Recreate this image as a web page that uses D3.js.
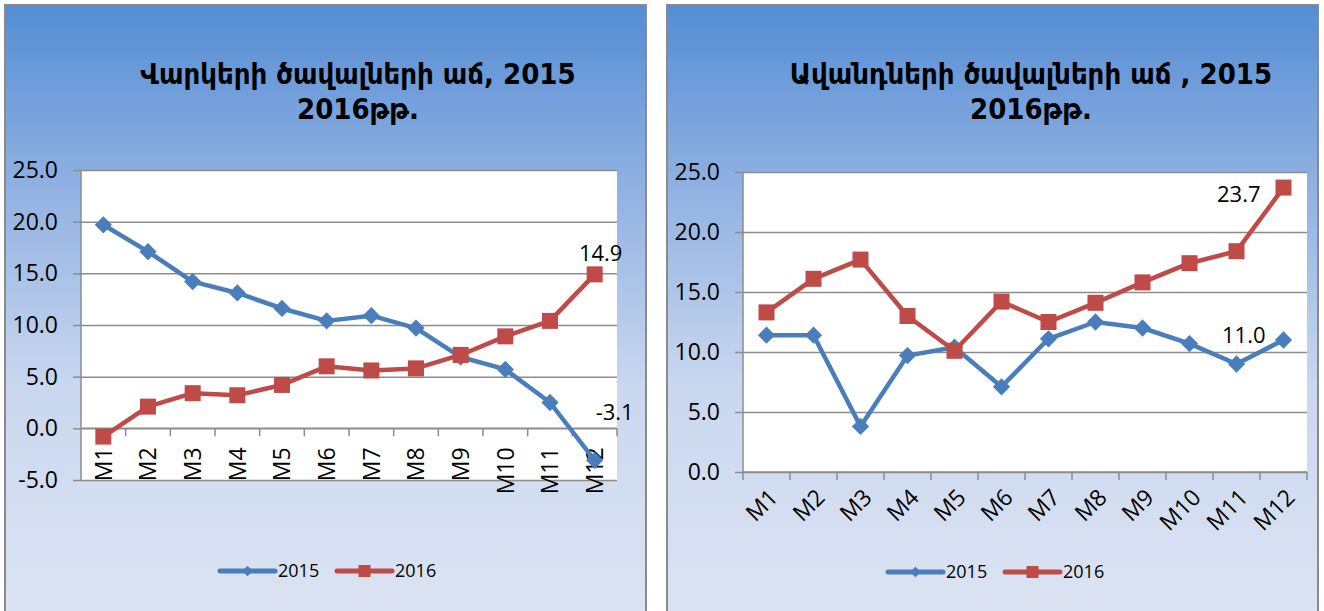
<!DOCTYPE html>
<html>
<head>
<meta charset="utf-8">
<script src="https://cdn.jsdelivr.net/npm/d3@7"></script>
<style>
  html, body { margin: 0; padding: 0; background: #ffffff; }
  svg { display: block; }
</style>
</head>
<body>
<svg id="chart" width="1324" height="611"></svg>
<script>
// ---------- DATA ----------
const categories = ["M1","M2","M3","M4","M5","M6","M7","M8","M9","M10","M11","M12"];
const seriesNames = ["2015", "2016"];

const loans2015 = [19.7, 17.1, 14.2, 13.1, 11.6, 10.4, 10.9, 9.7, 6.9, 5.7, 2.5, -3.1];
const loans2016 = [-0.8, 2.1, 3.4, 3.2, 4.2, 6.0, 5.6, 5.8, 7.1, 8.9, 10.4, 14.9];

const deposits2015 = [11.4, 11.4, 3.8, 9.7, 10.4, 7.1, 11.1, 12.5, 12.0, 10.7, 9.0, 11.0];
const deposits2016 = [13.3, 16.1, 17.7, 13.0, 10.1, 14.2, 12.5, 14.1, 15.8, 17.4, 18.4, 23.7];

const loansTicks = [-5, 0, 5, 10, 15, 20, 25];
const depositsTicks = [0, 5, 10, 15, 20, 25];

const loansTitle = ["Վարկերի ծավալների աճ, 2015", "2016թթ."];
const depositsTitle = ["Ավանդների ծավալների աճ , 2015", "2016թթ."];

// ---------- STYLE ----------
const BLUE = "#4A7EBB";
const RED = "#BE4B48";
const GRID = "#8C8C8C";
const TICK_FONT = "'Open Sans', 'Liberation Sans', sans-serif";
const fmt = v => d3.format(".1f")(v).replace("\u2212", "-");

const svg = d3.select("#chart");
const defs = svg.append("defs");
const grad = defs.append("linearGradient").attr("id", "panelGrad")
  .attr("x1", 0).attr("y1", 0).attr("x2", 0).attr("y2", 1);
grad.append("stop").attr("offset", "0%").attr("stop-color", "#548DD4");
grad.append("stop").attr("offset", "28%").attr("stop-color", "#8DAFE1");
grad.append("stop").attr("offset", "62%").attr("stop-color", "#C9D7EF");
grad.append("stop").attr("offset", "100%").attr("stop-color", "#DCE4F2");

function drawPanel(cfg) {
  const g = svg.append("g");
  // panel background
  g.append("rect")
    .attr("x", cfg.panel.x).attr("y", cfg.panel.y)
    .attr("width", cfg.panel.w).attr("height", cfg.panel.h)
    .attr("fill", "url(#panelGrad)")
    .attr("stroke", "#8A8A8A").attr("stroke-width", 2);

  // title
  const t = g.append("text")
    .attr("text-anchor", "middle")
    .attr("font-family", "'DejaVu Sans Condensed', 'DejaVu Sans', sans-serif")
    .attr("font-weight", "bold")
    .attr("font-size", cfg.titleSize)
    .attr("fill", "#000");
  cfg.title.forEach((line, i) => {
    t.append("tspan").attr("x", cfg.titleX).attr("y", cfg.titleY + i * 35).text(line);
  });

  const x = d3.scaleBand().domain(categories).range([cfg.plot.x0, cfg.plot.x1]).paddingInner(0).paddingOuter(0);
  const y = d3.scaleLinear().domain([cfg.ticks[0], cfg.ticks[cfg.ticks.length - 1]]).range([cfg.plot.y1, cfg.plot.y0]);

  // plot area
  g.append("rect")
    .attr("x", cfg.plot.x0).attr("y", cfg.plot.y0)
    .attr("width", cfg.plot.x1 - cfg.plot.x0).attr("height", cfg.plot.y1 - cfg.plot.y0)
    .attr("fill", "#ffffff");

  // y axis with gridlines
  const yAxis = d3.axisLeft(y).tickValues(cfg.ticks).tickFormat(fmt)
    .tickSize(-(cfg.plot.x1 - cfg.plot.x0)).tickPadding(23);
  const ya = g.append("g").attr("transform", `translate(${cfg.plot.x0},0)`).call(yAxis);
  ya.select(".domain").remove();
  ya.selectAll(".tick line").attr("stroke", GRID).attr("stroke-width", 1.5);
  ya.selectAll(".tick").append("line").attr("x1", 0).attr("x2", -8).attr("stroke", GRID).attr("stroke-width", 1.5);
  ya.selectAll(".tick text")
    .attr("font-family", TICK_FONT).attr("font-size", cfg.tickSize).attr("fill", "#000");
  g.append("line").attr("x1", cfg.plot.x0).attr("x2", cfg.plot.x0)
    .attr("y1", cfg.plot.y0).attr("y2", cfg.plot.y1)
    .attr("stroke", GRID).attr("stroke-width", 1.5);

  // category axis at y=0
  const y0 = y(0);
  g.append("line").attr("x1", cfg.plot.x0).attr("x2", cfg.plot.x1)
    .attr("y1", y0).attr("y2", y0).attr("stroke", GRID).attr("stroke-width", 1.5);
  const bounds = categories.map(c => x(c)).concat([cfg.plot.x1]).filter((d, i) => cfg.firstTick || i > 0);
  g.selectAll(null).data(bounds).enter().append("line")
    .attr("x1", d => d).attr("x2", d => d)
    .attr("y1", y0).attr("y2", y0 + 8)
    .attr("stroke", GRID).attr("stroke-width", 1.5);

  // category labels
  g.selectAll(null).data(categories).enter().append("text")
    .attr("transform", d => `translate(${x(d) + x.bandwidth() / 2 + cfg.labelDx},${y0 + cfg.labelDy}) rotate(${cfg.labelRot})`)
    .attr("text-anchor", "end")
    .attr("dy", cfg.labelRot === -90 ? "0.36em" : "0.3em")
    .attr("font-family", TICK_FONT).attr("font-size", cfg.tickSize).attr("fill", "#000")
    .text(d => d);

  const cx = (d, i) => x(categories[i]) + x.bandwidth() / 2;
  const line = d3.line().x((d, i) => cx(d, i)).y(d => y(d));

  // 2015 series
  g.append("path").datum(cfg.s1).attr("d", line)
    .attr("fill", "none").attr("stroke", BLUE).attr("stroke-width", 4.5).attr("stroke-linejoin", "round");
  g.selectAll(null).data(cfg.s1).enter().append("path")
    .attr("d", d3.symbol().type(d3.symbolDiamond2).size(190))
    .attr("transform", (d, i) => `translate(${cx(d, i)},${y(d)})`)
    .attr("fill", BLUE);

  // 2016 series
  g.append("path").datum(cfg.s2).attr("d", line)
    .attr("fill", "none").attr("stroke", RED).attr("stroke-width", 4.5).attr("stroke-linejoin", "round");
  g.selectAll(null).data(cfg.s2).enter().append("rect")
    .attr("x", (d, i) => cx(d, i) - 8).attr("y", d => y(d) - 8)
    .attr("width", 16).attr("height", 16)
    .attr("fill", RED);

  // data labels for last point
  const last = categories.length - 1;
  cfg.labels.forEach(l => {
    const v = l.series === 0 ? cfg.s1[last] : cfg.s2[last];
    g.append("text")
      .attr("x", cx(v, last) + l.dx).attr("y", y(v) + l.dy)
      .attr("text-anchor", l.anchor)
      .attr("font-family", TICK_FONT).attr("font-size", cfg.tickSize - 1).attr("fill", "#000")
      .text(fmt(v));
  });

  // legend
  const lg = g.append("g").attr("transform", `translate(${cfg.legend.x},${cfg.legend.y})`);
  seriesNames.forEach((name, i) => {
    const ox = i * 117;
    const col = i === 0 ? BLUE : RED;
    lg.append("line").attr("x1", ox).attr("x2", ox + 55).attr("y1", 0).attr("y2", 0)
      .attr("stroke", col).attr("stroke-width", 5).attr("stroke-linecap", "round");
    if (i === 0) {
      lg.append("path").attr("d", d3.symbol().type(d3.symbolDiamond2).size(70))
        .attr("transform", `translate(${ox + 27.5},0)`).attr("fill", col);
    } else {
      lg.append("rect").attr("x", ox + 27.5 - 6).attr("y", -6).attr("width", 12).attr("height", 12).attr("fill", col);
    }
    lg.append("text").attr("x", ox + 58).attr("y", 0).attr("dy", "0.35em")
      .attr("font-family", TICK_FONT).attr("font-size", 18).attr("fill", "#000")
      .text(name);
  });
}

drawPanel({
  panel: { x: 5, y: 5, w: 641, h: 612 },
  title: loansTitle, titleX: 358, titleY: 84, titleSize: 29,
  plot: { x0: 81, x1: 617, y0: 170, y1: 480 },
  ticks: loansTicks, tickSize: 23,
  s1: loans2015, s2: loans2016,
  firstTick: false,
  labelRot: -90, labelDx: 0, labelDy: 19,
  labels: [ { series: 1, dx: 6, dy: -13, anchor: "middle" }, { series: 0, dx: 20, dy: -40, anchor: "middle" } ],
  legend: { x: 220, y: 571 }
});

drawPanel({
  panel: { x: 667, y: 5, w: 651, h: 612 },
  title: depositsTitle, titleX: 1031, titleY: 84, titleSize: 29,
  plot: { x0: 743, x1: 1307, y0: 172, y1: 472 },
  ticks: depositsTicks, tickSize: 23,
  s1: deposits2015, s2: deposits2016,
  firstTick: true,
  labelRot: -45, labelDx: 8, labelDy: 22,
  labels: [ { series: 1, dx: -23, dy: 14, anchor: "end" }, { series: 0, dx: -18, dy: 3, anchor: "end" } ],
  legend: { x: 888, y: 572 }
});
</script>
</body>
</html>
